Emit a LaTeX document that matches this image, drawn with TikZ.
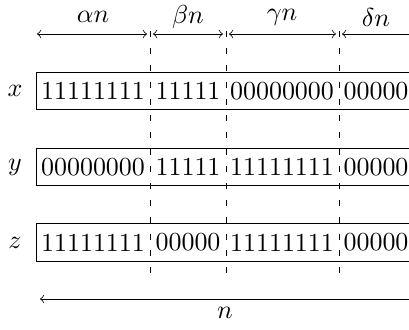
\documentclass[tikz,border=0pt]{standalone}
\usepackage{amsmath,amssymb}
\usetikzlibrary{calc}
\tikzset{
  rowbox/.style={
    draw,
    shape = rectangle,
    inner sep = 0pt,
    minimum width = 145.5pt,
    minimum height = 14.4pt
  },
  cell/.style={
    inner sep = 0pt
  },
  split/.style={
    dash pattern=on 2.3pt off 4.2pt
  },
  dim/.style={
    <->
  },
  every picture/.style = {
    line width=0.3pt
  }
}

\begin{document}
\begin{tikzpicture}[x=0.385pt,y=-0.385pt]
        \clip (0,0) rectangle (409,329);
        \useasboundingbox (0,0) rectangle (409,329);
        % where the blocks split
        \coordinate (s0) at (37,34);
        \coordinate (s1) at (150,34);
        \coordinate (s2) at (226,34);
        \coordinate (s3) at (339,34);
        \coordinate (s4) at (414,34);
        \coordinate (t1) at (150,280);
        \coordinate (t2) at (226,280);
        \coordinate (t3) at (339,280);
        % sizes
        \draw[dim] (s0)--($(s1)+(-3,0)$);
        \draw[dim] ($(s1)+(3,0)$)--($(s2)+(-3,0)$);
        \draw[dim] ($(s2)+(3,0)$)--($(s3)+(-3,0)$);
        \draw[dim] ($(s3)+(3,0)$)--(s4);
        \node (la) at (93,17) {$\alpha n$};
        \node (lb) at (188,17) {$\beta n$};
        \node (lc) at (282,17) {$\gamma n$};
        \node (ld) at (376,17) {$\delta n$};
        % rows
        \node[rowbox] (xrow) at (225,91) {};
        \node (xl) at (15,91) {$x$};
        \node[cell] (x1) at (93,91) {11111111};
        \node[cell] (x2) at (188,91) {11111};
        \node[cell] (x3) at (282,91) {00000000};
        \node[cell] (x4) at (376,91) {00000};
        \node[rowbox] (yrow) at (225,167) {};
        \node (yl) at (15,167) {$y$};
        \node[cell] (y1) at (93,167) {00000000};
        \node[cell] (y2) at (188,167) {11111};
        \node[cell] (y3) at (282,167) {11111111};
        \node[cell] (y4) at (376,167) {00000};
        \node[rowbox] (zrow) at (225,242.5) {};
        \node (zl) at (15,242.5) {$z$};
        \node[cell] (z1) at (93,242.5) {11111111};
        \node[cell] (z2) at (188,242.5) {00000};
        \node[cell] (z3) at (282,242.5) {11111111};
        \node[cell] (z4) at (376,242.5) {00000};
        % splits
        \draw[split] ($(s1)+(0,-3)$)--(t1);
        \draw[split] ($(s2)+(0,-3)$)--(t2);
        \draw[split] ($(s3)+(0,-3)$)--(t3);
        % whole length
        \coordinate (n0) at (40,299);
        \coordinate (n1) at (414,299);
        \draw[dim] (n0)--(n1);
        \node (ln) at (225,313) {$n$};
    \end{tikzpicture}
\end{document}
